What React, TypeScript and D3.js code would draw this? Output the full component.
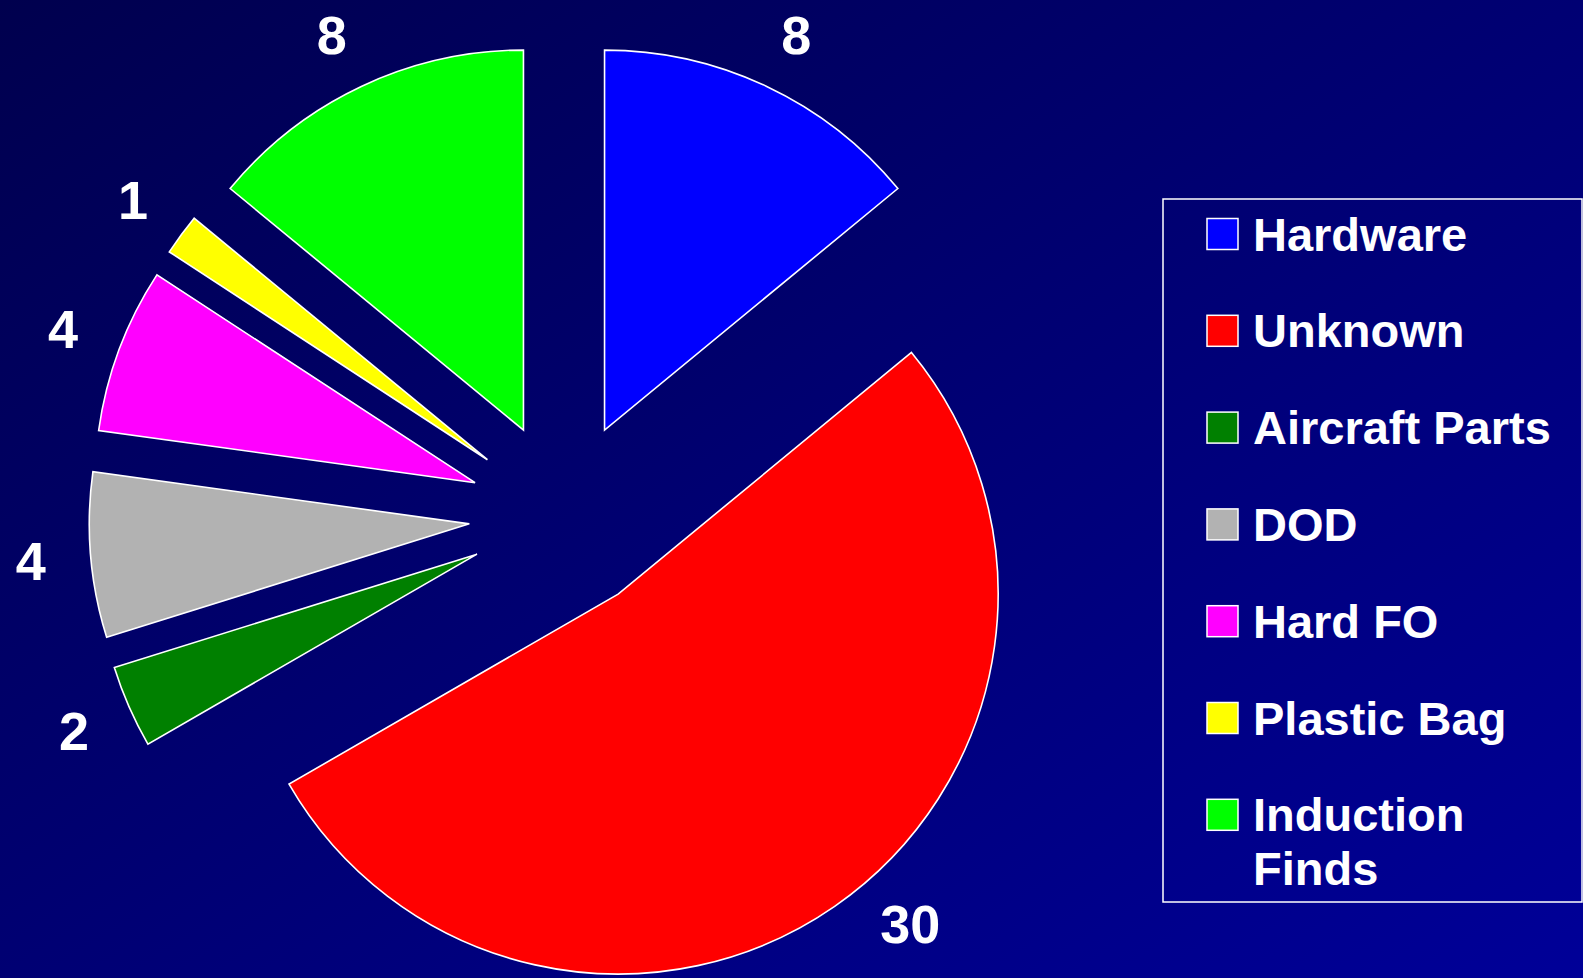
import React from "react";
import * as d3 from "d3";

const categories = ["Hardware", "Unknown", "Aircraft Parts", "DOD", "Hard FO", "Plastic Bag", "Induction Finds"];
const values = [8, 30, 2, 4, 4, 1, 8];
const colors = ["#0000FF", "#FF0000", "#008000", "#B2B2B2", "#FF00FF", "#FFFF00", "#00FF00"];

const W = 1583;
const H = 978;
const CX = 564;
const CY = 516;
const R = 380;
const EXPLODE = 95;
const LABEL_DIST = 440;
const LABEL_MIN_Y = 34;
const LABEL_MAX_Y = 923;
const FONT = "'Liberation Sans', Arial, Helvetica, sans-serif";

function labelPos(vx: number, vy: number, mid: number): [number, number] {
  let x = vx + LABEL_DIST * Math.sin(mid);
  let y = vy - LABEL_DIST * Math.cos(mid);
  const side = Math.sin(mid) >= 0 ? 1 : -1;
  if (y > LABEL_MAX_Y || y < LABEL_MIN_Y) {
    const ty = y > LABEL_MAX_Y ? LABEL_MAX_Y : LABEL_MIN_Y;
    const c = (ty - vy) / LABEL_DIST;
    const s = Math.sqrt(Math.max(0, 1 - c * c));
    y = ty;
    x = vx + side * LABEL_DIST * s;
  }
  return [x, y];
}

export default function App() {
  const pie = d3.pie<number>().sort(null).value((d) => d).startAngle(0).endAngle(2 * Math.PI);
  const arcs = pie(values);
  const arcGen = d3.arc<d3.PieArcDatum<number>>().innerRadius(0).outerRadius(R);

  const legendX = 1163;
  const legendY = 199;
  const legendW = 419;
  const legendH = 703;
  const swX = 1207;
  const swY0 = 218.5;
  const swStep = 96.8;
  const sw = 31;

  return (
    <svg
      width={W}
      height={H}
      style={{ position: "absolute", left: 0, top: 0, display: "block" }}
    >
      <defs>
        <linearGradient id="bg" x1="0" y1="0" x2="1" y2="1">
          <stop offset="0%" stopColor="#00004E" />
          <stop offset="100%" stopColor="#000098" />
        </linearGradient>
      </defs>
      <rect x={0} y={0} width={W} height={H} fill="url(#bg)" />
      {arcs.map((a, i) => {
        const mid = (a.startAngle + a.endAngle) / 2;
        const vx = CX + EXPLODE * Math.sin(mid);
        const vy = CY - EXPLODE * Math.cos(mid);
        const [lx, ly] = labelPos(vx, vy, mid);
        return (
          <g key={categories[i]}>
            <path
              d={arcGen(a) || ""}
              transform={`translate(${vx},${vy})`}
              fill={colors[i]}
              stroke="#FFFFFF"
              strokeWidth={1.6}
              strokeLinejoin="miter"
            />
            <text
              x={lx}
              y={ly + 19.5}
              textAnchor="middle"
              fill="#FFFFFF"
              fontFamily={FONT}
              fontWeight="bold"
              fontSize={54}
            >
              {String(values[i])}
            </text>
          </g>
        );
      })}
      <rect
        x={legendX}
        y={legendY}
        width={legendW}
        height={legendH}
        fill="none"
        stroke="#FFFFFF"
        strokeWidth={1.5}
      />
      {categories.map((c, i) => {
        const y = swY0 + i * swStep;
        const lines = c.length > 14 ? c.split(" ") : [c];
        return (
          <g key={"lg" + c}>
            <rect x={swX} y={y} width={sw} height={sw} fill={colors[i]} stroke="#FFFFFF" strokeWidth={1.5} />
            <text
              x={1253}
              y={y + 32}
              fill="#FFFFFF"
              fontFamily={FONT}
              fontWeight="bold"
              fontSize={47}
            >
              {lines.map((ln, j) => (
                <tspan key={j} x={1253} dy={j === 0 ? 0 : 54}>
                  {ln}
                </tspan>
              ))}
            </text>
          </g>
        );
      })}
    </svg>
  );
}
